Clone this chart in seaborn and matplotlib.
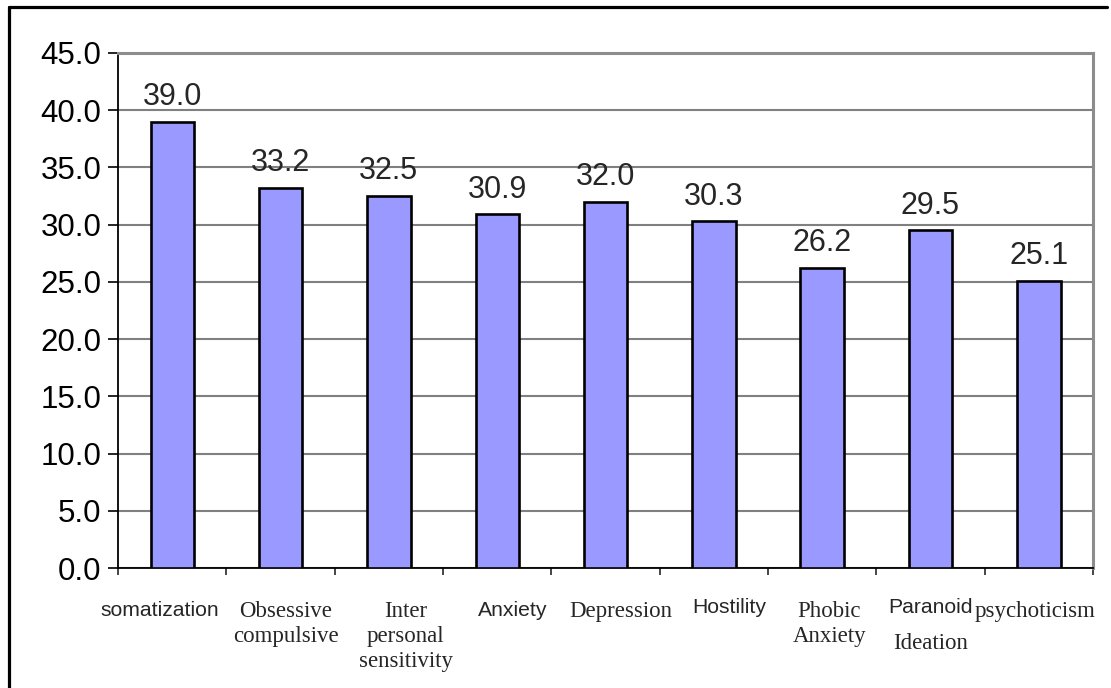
import matplotlib
matplotlib.use("Agg")
import matplotlib.pyplot as plt
from matplotlib.lines import Line2D
from matplotlib.ticker import FormatStrFormatter
import seaborn as sns

## data
categories = ["somatization", "Obsessive compulsive", "Inter personal sensitivity",
              "Anxiety", "Depression", "Hostility", "Phobic Anxiety",
              "Paranoid Ideation", "psychoticism"]
values = [39.0, 33.2, 32.5, 30.9, 32.0, 30.3, 26.2, 29.5, 25.1]
yticks = [0, 5, 10, 15, 20, 25, 30, 35, 40, 45]

# how each category label is written under the axis (text, font, dx, dy in points)
label_parts = [
    [("somatization", "sans", -9, 24)],
    [("Obsessive\ncompulsive", "serif", 4, 24)],
    [("Inter\npersonal\nsensitivity", "serif", 12, 24)],
    [("Anxiety", "sans", 11, 24)],
    [("Depression", "serif", 11, 24)],
    [("Hostility", "sans", 11, 21.5)],
    [("Phobic\nAnxiety", "serif", 5, 24)],
    [("Paranoid", "sans", 0, 21.5), ("Ideation", "serif", 0, 46.5)],
    [("psychoticism", "serif", -3, 24)],
]
fonts = {"sans": "Liberation Sans", "serif": "Liberation Serif"}
sizes = {"sans": 15.2, "serif": 16.5}

sns.set_style("white")
plt.rcParams['font.family'] = ['Liberation Sans', 'DejaVu Sans']

fig = plt.figure(figsize=(11.11, 6.88), dpi=100)
ax = fig.add_axes([118/1111, 1 - 568/688, (1093 - 118)/1111, (568 - 53)/688])

sns.barplot(x=categories, y=values, color="#9999FF", saturation=1,
            edgecolor="black", linewidth=1.9, width=0.4, ax=ax, zorder=3)

ax.set_xlim(-0.5, len(categories) - 0.5)
ax.set_ylim(0, 45)
ax.set_yticks(yticks)
ax.yaxis.set_major_formatter(FormatStrFormatter("%.1f"))
ax.tick_params(axis="y", labelsize=22.5, length=7, width=1.2, pad=5,
               direction="out", left=True, colors="black")
# x ticks sit on the category boundaries, labels drawn by hand below
ax.set_xticks([i - 0.5 for i in range(len(categories) + 1)])
ax.set_xticklabels([])
ax.tick_params(axis="x", length=5, width=1.2, direction="out", bottom=True)
ax.set_xlabel("")
ax.set_ylabel("")

ax.yaxis.grid(True, color="#808080", lw=1.5)
ax.set_axisbelow(True)
for s in ["left", "bottom"]:
    ax.spines[s].set_color("black")
    ax.spines[s].set_linewidth(1.3)
for s in ["top", "right"]:
    ax.spines[s].set_color("#8c8c8c")
    ax.spines[s].set_linewidth(2.2)

# value labels above bars
for i, v in enumerate(values):
    ax.annotate(f"{v:.1f}", xy=(i, v), xytext=(0, 12), textcoords="offset points",
                ha="center", va="baseline", fontsize=22)

# category labels
for i, parts in enumerate(label_parts):
    for text, fam, dx, dy in parts:
        ax.annotate(text, xy=(i, 0), xycoords=("data", "axes fraction"),
                    xytext=(dx, -dy), textcoords="offset points",
                    ha="center", va="top", fontsize=sizes[fam],
                    family=[fonts[fam], "DejaVu Sans"], linespacing=1.25,
                    multialignment="center")

# outer chart frame (left and top edges visible)
fig.add_artist(Line2D([9/1111, 9/1111], [0, 1 - 7/688], transform=fig.transFigure,
                      color="black", lw=2.3))
fig.add_artist(Line2D([9/1111, 1107/1111], [1 - 7/688, 1 - 7/688], transform=fig.transFigure,
                      color="black", lw=2.3))

fig.savefig("out.png", dpi=100)
